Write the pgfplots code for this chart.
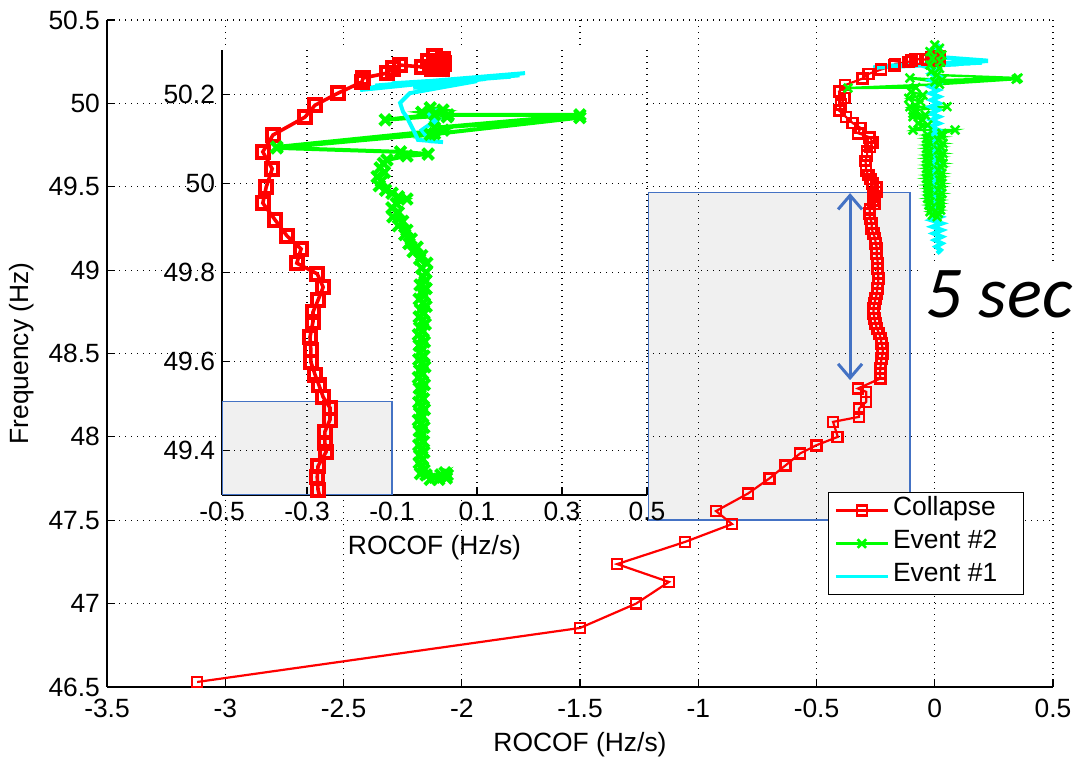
\documentclass[border=0pt]{standalone}
\usepackage{fontspec}
\setmainfont{Liberation Sans}
\newfontfamily\carlito{Carlito}
\usepackage{pgfplots}
\usepackage{pgfplotstable}
\pgfplotsset{compat=1.18}
\usetikzlibrary{arrows.meta}
\definecolor{mblue}{RGB}{68,114,196}
\definecolor{cred}{RGB}{255,0,0}
\definecolor{cgreen}{RGB}{0,255,0}
\definecolor{ccyan}{RGB}{0,255,255}
\newcommand{\lblfont}{\fontsize{13.2}{15.8}\selectfont}

\pgfplotstableread{
x y
0.015 50.275
0.005 50.268
-0.010 50.262
0.018 50.258
0.020 50.280
0.000 50.285
-0.015 50.275
0.010 50.262
0.022 50.270
-0.005 50.258
-0.030 50.262
-0.081 50.266
-0.098 50.258
-0.112 50.248
-0.168 50.237
-0.171 50.228
-0.227 50.203
-0.281 50.176
-0.305 50.149
-0.380 50.109
-0.404 50.071
-0.382 50.033
-0.396 49.992
-0.404 49.956
-0.375 49.918
-0.347 49.882
-0.314 49.853
-0.324 49.821
-0.276 49.797
-0.262 49.767
-0.274 49.738
-0.286 49.711
-0.286 49.689
-0.293 49.655
-0.291 49.626
-0.291 49.599
-0.281 49.570
-0.272 49.547
-0.262 49.520
-0.246 49.496
-0.246 49.469
-0.258 49.442
-0.258 49.417
-0.255 49.397
-0.274 49.365
-0.276 49.340
-0.274 49.311
-0.265 49.280
-0.268 49.250
-0.260 49.220
-0.252 49.190
-0.250 49.160
-0.244 49.130
-0.246 49.100
-0.244 49.070
-0.240 49.040
-0.242 49.010
-0.240 48.980
-0.238 48.950
-0.240 48.920
-0.243 48.890
-0.245 48.860
-0.250 48.830
-0.255 48.800
-0.260 48.770
-0.258 48.740
-0.255 48.710
-0.250 48.680
-0.245 48.650
-0.235 48.620
-0.228 48.590
-0.225 48.560
-0.220 48.530
-0.220 48.500
-0.225 48.470
-0.228 48.440
-0.230 48.410
-0.232 48.380
-0.230 48.350
-0.325 48.290
-0.290 48.270
-0.290 48.210
-0.320 48.170
-0.320 48.120
-0.430 48.090
-0.410 48.000
-0.500 47.950
-0.570 47.900
-0.630 47.830
-0.700 47.750
-0.790 47.660
-0.925 47.555
-0.857 47.477
-1.056 47.370
-1.343 47.237
-1.124 47.130
-1.263 47.000
-1.500 46.854
-3.119 46.530
}\redtab

\pgfplotstableread{
x y
0.000 50.350
0.020 50.330
-0.020 50.310
0.030 50.290
-0.010 50.270
0.025 50.250
-0.020 50.230
0.020 50.210
-0.015 50.190
0.010 50.170
0.352 50.152
0.030 50.140
-0.105 50.152
0.000 50.130
0.345 50.145
0.020 50.115
-0.367 50.092
-0.080 50.095
-0.100 50.070
-0.050 50.050
-0.110 50.030
-0.060 50.010
-0.105 49.980
0.052 49.980
-0.080 49.960
-0.092 49.940
-0.040 49.930
-0.092 49.920
-0.050 49.900
-0.070 49.880
-0.030 49.870
-0.092 49.840
0.086 49.840
0.030 49.820
-0.030 49.810
0.030 49.800
-0.035 49.790
0.015 49.780
-0.025 49.770
0.035 49.760
-0.030 49.750
0.025 49.740
-0.035 49.730
0.015 49.720
-0.025 49.710
0.035 49.700
-0.030 49.690
0.025 49.680
-0.035 49.670
0.020 49.660
-0.025 49.650
0.035 49.640
-0.030 49.630
0.025 49.620
-0.035 49.610
0.015 49.600
-0.025 49.590
0.030 49.580
-0.030 49.570
0.025 49.560
-0.035 49.550
0.020 49.540
-0.025 49.530
0.030 49.520
-0.030 49.510
0.025 49.500
-0.030 49.490
0.015 49.480
-0.025 49.470
0.030 49.460
-0.025 49.450
0.020 49.440
-0.030 49.430
0.025 49.420
-0.020 49.410
0.025 49.400
-0.025 49.390
0.020 49.380
-0.015 49.370
0.025 49.360
-0.020 49.350
0.015 49.340
-0.010 49.330
0.010 49.320
}\greenmain

\pgfplotstableread{
x y
0.000 50.360
0.020 50.340
-0.015 50.320
0.015 50.300
-0.010 50.280
0.225 50.255
-0.260 50.215
0.200 50.245
-0.200 50.225
0.150 50.240
-0.100 50.230
0.100 50.235
-0.050 50.225
0.010 50.200
-0.018 50.180
0.018 50.160
-0.018 50.140
0.018 50.120
-0.018 50.100
0.015 50.080
-0.018 50.060
0.018 50.040
-0.015 50.020
0.018 50.000
-0.018 49.980
0.015 49.960
-0.018 49.940
0.018 49.920
-0.015 49.900
0.018 49.880
-0.018 49.860
0.015 49.840
-0.018 49.820
0.018 49.800
-0.015 49.780
0.018 49.760
-0.018 49.740
0.015 49.720
-0.018 49.700
0.018 49.680
-0.015 49.660
0.018 49.640
-0.018 49.620
0.015 49.600
-0.018 49.580
0.018 49.560
-0.015 49.540
0.018 49.520
-0.018 49.500
0.015 49.480
-0.018 49.460
0.018 49.440
-0.015 49.420
0.018 49.400
-0.018 49.380
0.018 49.360
-0.010 49.340
0.025 49.320
-0.015 49.300
0.030 49.280
-0.010 49.260
0.030 49.240
-0.005 49.220
0.030 49.200
0.000 49.180
0.030 49.160
0.005 49.140
0.025 49.120
0.010 49.100
}\cyanmain

\pgfplotstableread{
x y
-0.010 50.170
0.020 50.165
-0.030 50.160
0.030 50.150
0.000 50.155
-0.116 50.143
0.032 50.154
0.342 50.154
0.000 50.125
0.342 50.148
-0.010 50.110
0.020 50.120
-0.371 50.082
0.000 50.112
-0.371 50.080
-0.080 50.071
-0.015 50.066
-0.065 50.062
-0.112 50.053
-0.120 50.045
-0.128 50.035
-0.118 50.025
-0.135 50.015
-0.125 50.005
-0.130 49.995
-0.115 49.985
-0.100 49.978
-0.085 49.970
-0.065 49.965
-0.090 49.955
-0.100 49.945
-0.085 49.935
-0.098 49.925
-0.075 49.915
-0.085 49.905
-0.065 49.895
-0.070 49.885
-0.055 49.875
-0.060 49.865
-0.041 49.857
-0.050 49.847
-0.030 49.838
-0.035 49.830
-0.018 49.821
-0.030 49.810
-0.020 49.800
-0.027 49.790
-0.022 49.780
-0.034 49.772
-0.020 49.764
-0.030 49.756
-0.024 49.748
-0.036 49.740
-0.026 49.732
-0.020 49.724
-0.033 49.716
-0.025 49.708
-0.036 49.700
-0.028 49.692
-0.022 49.684
-0.035 49.676
-0.027 49.668
-0.038 49.660
-0.030 49.652
-0.024 49.644
-0.036 49.636
-0.028 49.628
-0.034 49.620
-0.025 49.612
-0.037 49.604
-0.029 49.596
-0.023 49.588
-0.035 49.580
-0.028 49.572
-0.038 49.564
-0.030 49.556
-0.024 49.548
-0.036 49.540
-0.029 49.532
-0.034 49.524
-0.026 49.516
-0.037 49.508
-0.030 49.500
-0.024 49.492
-0.035 49.484
-0.028 49.476
-0.038 49.468
-0.031 49.460
-0.025 49.452
-0.036 49.444
-0.029 49.436
-0.034 49.428
-0.026 49.420
-0.037 49.412
-0.030 49.404
-0.025 49.396
-0.035 49.388
-0.028 49.380
-0.036 49.372
-0.030 49.364
-0.025 49.356
-0.033 49.348
-0.020 49.345
0.000 49.340
0.015 49.345
0.028 49.338
0.010 49.335
0.025 49.350
-0.010 49.335
0.030 49.345
}\greeninset

\pgfplotstableread{
x y
-0.175 50.210
0.213 50.248
-0.140 50.220
0.180 50.240
-0.160 50.215
0.200 50.243
-0.100 50.225
0.120 50.235
-0.050 50.215
0.100 50.230
-0.058 50.203
-0.081 50.181
-0.074 50.161
-0.065 50.149
-0.046 50.113
-0.039 50.098
0.020 50.093
-0.010 50.095
-0.030 50.120
0.000 50.140
-0.015 50.160
0.010 50.165
0.005 50.130
-0.010 50.150
0.008 50.145
-0.012 50.135
}\cyaninset

\pgfplotsset{
  mystyle/.style={
    scale only axis,
    axis x line*=bottom, axis y line*=left,
    tick align=inside,
    axis line style={black, line width=0.7pt},
    tick style={black, line width=0.6pt},
    major tick length=4pt,
    grid=major,
    grid style={black, line width=0.55pt, dash pattern=on 0.55pt off 2.45pt},
    tick label style={font=\lblfont},
  }
}

\begin{document}
\begin{tikzpicture}
\fill[white] (0,0) rectangle (538pt,379pt);
\useasboundingbox (0,0) rectangle (538pt,379pt);
\begin{axis}[mystyle,
  /pgf/number format/assume math mode=true,
  at={(53.5pt,35.5pt)}, anchor=south west, width=473pt, height=333.5pt,
  xmin=-3.5, xmax=0.5, ymin=46.5, ymax=50.5,
  xtick={-3.5,-3,-2.5,-2,-1.5,-1,-0.5,0,0.5},
  ytick={46.5,47,47.5,48,48.5,49,49.5,50,50.5},
  xlabel={ROCOF (Hz/s)}, ylabel={Frequency (Hz)},
  every axis x label/.style={at={(axis description cs:0.5,-0.086)}, anchor=center, font=\lblfont},
  every axis y label/.style={at={(axis description cs:-0.09,0.5)}, rotate=90, anchor=center, font=\lblfont},
  xticklabel style={yshift=-2.5pt},
  legend style={at={(0.7622,0.2924)}, anchor=north west, draw=black, line width=0.6pt,
    fill=white, font=\lblfont, inner xsep=3pt, inner ysep=2pt, row sep=2.5pt,
    nodes={inner sep=2pt, text depth=0.25em, text height=0.75em}},
  legend cell align=left,
  legend image code/.code={\draw[mark repeat=2,mark phase=2,#1] plot coordinates {(0pt,0pt) (13pt,0pt) (26pt,0pt)};},
]
\draw[mblue, line width=0.75pt, fill=black, fill opacity=0.06] (axis cs:-1.21,47.5) rectangle (axis cs:-0.105,49.465);
\addplot[cred, line width=1.1pt, mark=square, mark size=2.5pt, mark options={solid, line width=1.3pt}] table {\redtab};
\addlegendentry{Collapse\hspace*{9pt}}
\addplot[cgreen, line width=1.2pt, mark=x, mark size=3pt, mark options={solid, line width=1.3pt}] table {\greenmain};
\addlegendentry{Event \#2}
\addplot[ccyan, line width=2.2pt, forget plot] table {\cyanmain};
\addlegendimage{ccyan, line width=1.2pt}
\addlegendentry{Event \#1}
\draw[mblue, line width=1.5pt, {Straight Barb[length=7pt,width=12pt]}-{Straight Barb[length=7pt,width=12pt]}] (axis cs:-0.358,49.462) -- (axis cs:-0.358,48.34);
\end{axis}

\begin{axis}[mystyle,
  /pgf/number format/assume math mode=true,
  at={(111pt,131.5pt)}, anchor=south west, width=212.5pt, height=222.5pt,
  xmin=-0.5, xmax=0.5, ymin=49.3, ymax=50.3,
  xtick={-0.5,-0.3,-0.1,0.1,0.3,0.5},
  ytick={49.4,49.6,49.8,50,50.2},
  axis background/.style={fill=white},
  xlabel={ROCOF (Hz/s)},
  every axis x label/.style={at={(axis description cs:0.5,-0.119)}, anchor=center, font=\lblfont},
]
\draw[mblue, line width=0.75pt, fill=black, fill opacity=0.06] (axis cs:-0.5,49.3) rectangle (axis cs:-0.1,49.51);
\addplot[cred, line width=1.8pt, mark=square, mark size=3.1pt, mark options={solid, line width=2pt}] table {\redtab};
\addplot[cgreen, line width=2pt, mark=x, mark size=3.8pt, mark options={solid, line width=2pt}] table {\greeninset};
\addplot[ccyan, line width=2pt] table {\cyaninset};
\end{axis}

\node[anchor=base west, fill=white, inner xsep=3pt, inner ysep=4pt] at (459.5pt,220pt) {\fontsize{36.5}{40}\selectfont\carlito\itshape 5 sec};
\end{tikzpicture}
\end{document}
